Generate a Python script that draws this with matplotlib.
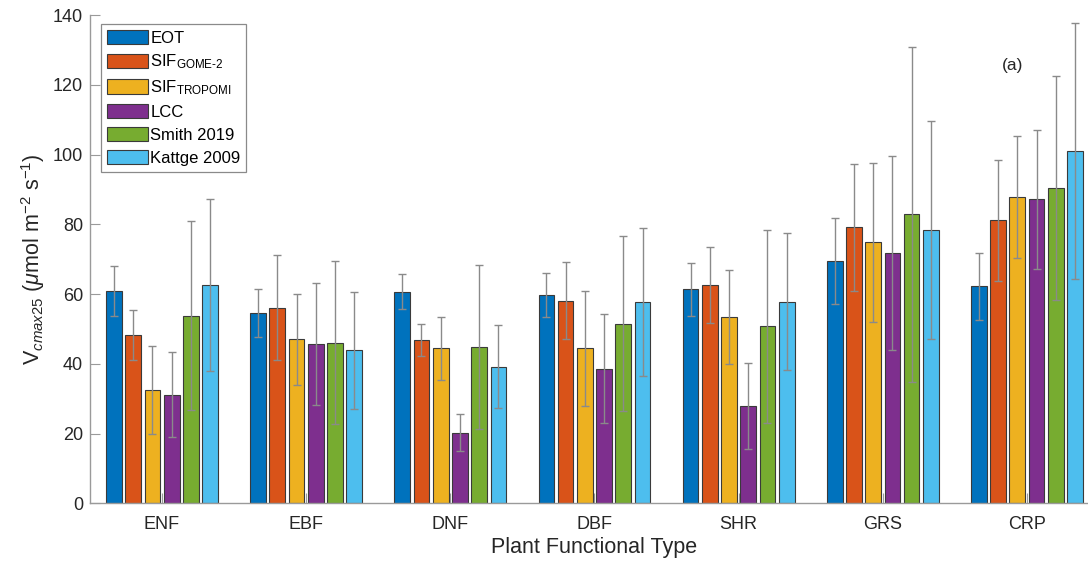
import matplotlib
matplotlib.use("Agg")
import matplotlib.pyplot as plt
import numpy as np

plt.rcParams['font.family'] = ['Liberation Sans', 'DejaVu Sans']
plt.rcParams['mathtext.fontset'] = 'custom'
plt.rcParams['mathtext.rm'] = 'Liberation Sans'
plt.rcParams['mathtext.it'] = 'Liberation Sans:italic'

# plant functional types
pft = ['ENF', 'EBF', 'DNF', 'DBF', 'SHR', 'GRS', 'CRP']

# mean Vcmax25 per product
eot = [60.8, 54.6, 60.7, 59.6, 61.4, 69.5, 62.2]
sif_gome = [48.2, 56.1, 46.8, 58.1, 62.6, 79.1, 81.1]
sif_tropomi = [32.5, 47.0, 44.4, 44.4, 53.4, 74.8, 87.7]
lcc = [31.1, 45.7, 20.2, 38.6, 28.0, 71.8, 87.2]
smith = [53.8, 46.0, 44.8, 51.5, 50.7, 82.9, 90.4]
kattge = [62.6, 43.9, 39.2, 57.7, 57.8, 78.3, 100.9]

# standard deviations (symmetric error bars)
eot_sd = [7.1, 6.8, 5.1, 6.3, 7.6, 12.4, 9.6]
sif_gome_sd = [7.1, 15.1, 4.6, 11.0, 10.9, 18.1, 17.3]
sif_tropomi_sd = [12.6, 13.0, 9.0, 16.5, 13.6, 22.9, 17.5]
lcc_sd = [12.2, 17.6, 5.3, 15.6, 12.3, 27.9, 19.9]
smith_sd = [27.0, 23.4, 23.4, 25.1, 27.8, 48.0, 32.2]
kattge_sd = [24.7, 16.8, 11.8, 21.3, 19.6, 31.2, 36.7]

labels = ['EOT', r'SIF$_{\mathrm{GOME}\text{-}\mathrm{2}}$', r'SIF$_{\mathrm{TROPOMI}}$',
          'LCC', 'Smith 2019', 'Kattge 2009']
means = [eot, sif_gome, sif_tropomi, lcc, smith, kattge]
sds = [eot_sd, sif_gome_sd, sif_tropomi_sd, lcc_sd, smith_sd, kattge_sd]
colors = ['#0072BD', '#D95319', '#EDB120', '#7E2F8E', '#77AC30', '#4DBEEE']

fig = plt.figure(figsize=(10.88, 5.64), dpi=100)
ax = fig.add_axes([0.0827, 0.1076, 0.9274, 0.8658])

x = np.arange(1, len(pft) + 1)
pitch = 0.1335
width = 0.109
for i in range(len(means)):
    off = (i - 2.5) * pitch
    ax.bar(x + off, means[i], width, color=colors[i], edgecolor='#3a3a3a',
           linewidth=0.8, label=labels[i], zorder=2)
    ax.errorbar(x + off, means[i], yerr=sds[i], fmt='none', ecolor='#8a8a8a',
                elinewidth=1.0, capsize=3, capthick=1.0, zorder=3)

ax.set_xlim(0.5, 7.5)
ax.set_ylim(0, 140)
ax.set_yticks(np.arange(0, 141, 20))
ax.set_xticks(x)
ax.set_xticklabels(pft)
ax.tick_params(direction='in', length=7, width=0.8, color='#9a9a9a',
               labelsize=13, labelcolor='#262626')
ax.tick_params(axis='x', pad=9)
ax.tick_params(axis='y', pad=5)
for s in ['top', 'right']:
    ax.spines[s].set_visible(False)
for s in ['left', 'bottom']:
    ax.spines[s].set_color('#9a9a9a')
    ax.spines[s].set_linewidth(1.0)

ax.set_xlabel('Plant Functional Type', fontsize=15.5, color='#262626', labelpad=3)
ax.set_ylabel(r'V$_{\it cmax25}$ ($\mu$mol m$^{-2}$ s$^{-1}$)', fontsize=15.5,
              color='#262626', labelpad=4)

ax.text(6.9, 125.6, '(a)', fontsize=12.5, ha='center', va='center', color='#262626')

leg = ax.legend(loc='upper left', bbox_to_anchor=(0.011, 0.982), fontsize=12,
                frameon=True, fancybox=False, framealpha=1, edgecolor='#8a8a8a',
                handlelength=2.45, handleheight=0.95, handletextpad=0.15,
                labelspacing=0.42, borderpad=0.35, borderaxespad=0)
leg.get_frame().set_linewidth(0.9)

fig.savefig('out.png', dpi=100)
